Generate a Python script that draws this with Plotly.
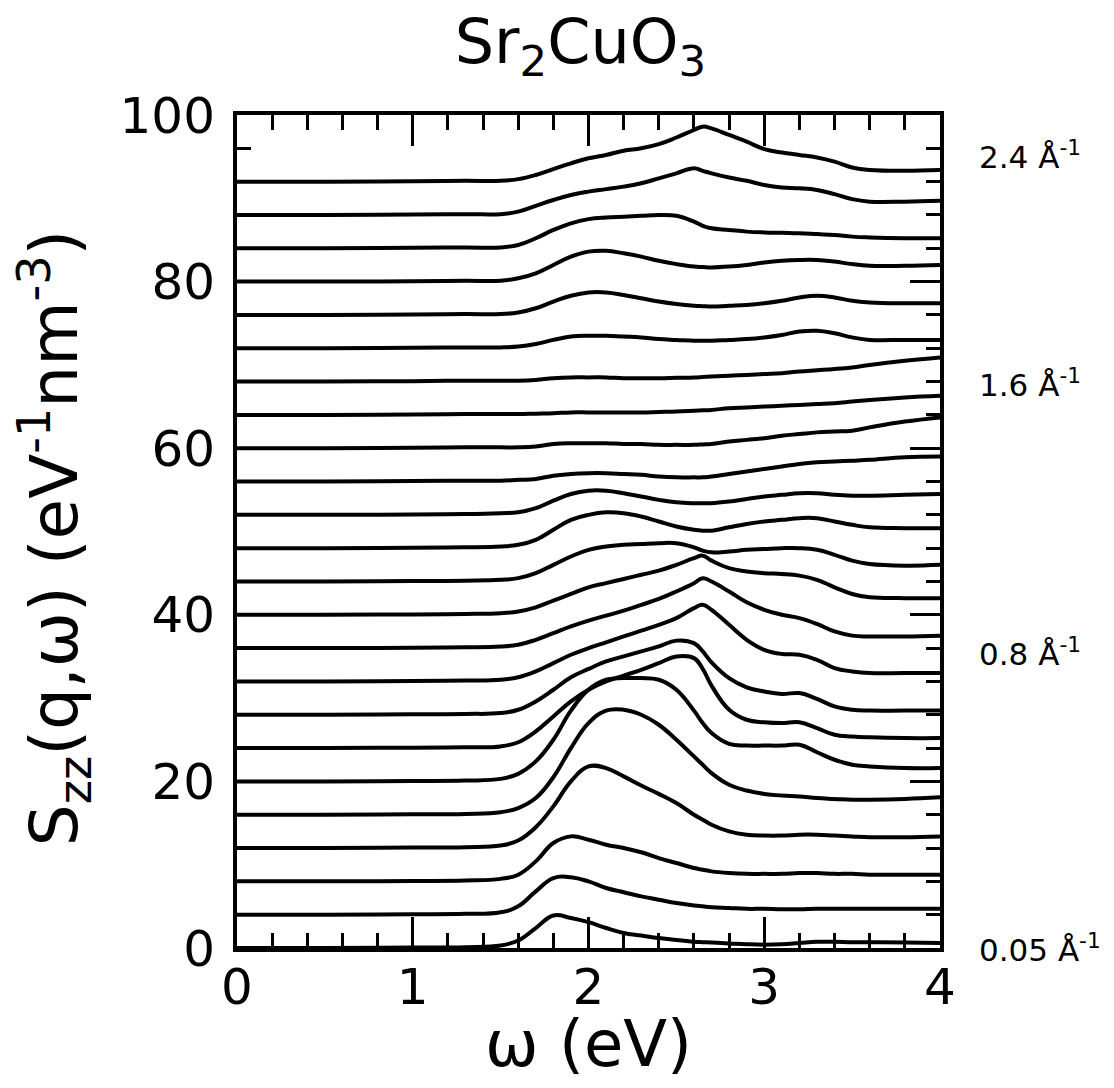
import plotly.graph_objects as go

# energy grid (eV)
omega = [0, 0.5, 1.0, 1.3, 1.5, 1.6, 1.7, 1.8, 1.9, 2.0, 2.1, 2.2, 2.3, 2.4, 2.5,
         2.6, 2.65, 2.7, 2.8, 2.9, 3.0, 3.1, 3.2, 3.3, 3.4, 3.5, 3.6, 3.8, 4.0]

# vertical offsets of each spectrum
offsets = [0, 4, 8, 12, 16, 20, 24, 28, 32, 36, 40, 44, 48, 52, 56, 60, 64, 68,
           72, 76, 80, 84, 88, 92]

# S_zz(q, w) of each spectrum (without offset), lowest q first
s0 = [0, 0, 0.05, 0.1, 0.3, 0.9, 2.4, 3.9, 3.6, 3.1, 2.4, 1.8, 1.5, 1.2, 0.95, 0.75, 0.7, 0.65, 0.55, 0.45, 0.4, 0.45, 0.6, 0.75, 0.75, 0.7, 0.7, 0.65, 0.6]
s1 = [0, 0, 0.05, 0.1, 0.3, 1.0, 2.8, 4.4, 4.5, 4.0, 3.2, 2.7, 2.2, 1.8, 1.4, 1.1, 1.0, 0.9, 0.8, 0.7, 0.7, 0.65, 0.65, 0.7, 0.7, 0.7, 0.7, 0.7, 0.7]
s2 = [0, 0, 0.05, 0.1, 0.3, 0.8, 2.4, 4.6, 5.4, 5.0, 4.4, 4.0, 3.5, 2.8, 2.2, 1.6, 1.4, 1.2, 1.0, 0.9, 0.9, 0.9, 1.0, 1.0, 0.9, 0.9, 0.8, 0.8, 0.8]
s3 = [0, 0, 0.05, 0.1, 0.3, 0.9, 2.5, 5.0, 8.0, 9.8, 9.6, 8.6, 7.5, 6.5, 5.4, 4.0, 3.4, 2.8, 2.0, 1.6, 1.5, 1.5, 1.6, 1.6, 1.5, 1.4, 1.3, 1.3, 1.4]
s4 = [0, 0, 0.05, 0.1, 0.3, 0.8, 2.0, 4.5, 8.0, 11.0, 12.5, 12.6, 12.0, 10.8, 9.0, 7.0, 6.0, 5.0, 3.6, 2.9, 2.5, 2.3, 2.2, 2.0, 1.9, 1.8, 1.8, 1.9, 2.1]
s5 = [0, 0, 0.05, 0.1, 0.3, 0.9, 2.4, 5.0, 8.5, 11.0, 12.2, 12.4, 12.4, 12.2, 11.0, 8.5, 7.0, 5.8, 4.5, 4.3, 4.3, 4.3, 4.4, 3.5, 2.6, 2.0, 1.8, 1.6, 1.6]
s6 = [0, 0, 0.05, 0.1, 0.2, 0.7, 2.0, 3.8, 5.6, 7.0, 8.0, 8.7, 9.4, 10.2, 11.0, 10.8, 9.5, 7.5, 4.6, 3.4, 3.1, 3.0, 3.1, 2.4, 1.6, 1.4, 1.3, 1.2, 1.2]
s7 = [0, 0, 0.05, 0.1, 0.2, 0.6, 1.6, 3.0, 4.5, 5.5, 6.4, 7.0, 7.6, 8.2, 8.9, 8.6, 7.6, 6.3, 4.4, 3.3, 2.8, 2.5, 2.6, 1.9, 1.0, 0.6, 0.5, 0.5, 0.5]
s8 = [0, 0, 0.05, 0.1, 0.2, 0.5, 1.2, 2.2, 3.2, 4.0, 4.7, 5.4, 6.1, 6.8, 7.6, 8.8, 9.2, 8.6, 6.8, 5.0, 3.8, 3.3, 3.2, 2.6, 1.6, 1.2, 1.0, 1.0, 1.0]
s9 = [0, 0, 0.05, 0.1, 0.2, 0.4, 1.0, 1.8, 2.6, 3.3, 3.9, 4.5, 5.2, 5.9, 6.8, 7.8, 8.4, 8.0, 6.8, 5.5, 4.6, 4.0, 3.6, 2.9, 2.0, 1.5, 1.4, 1.4, 1.5]
s10 = [0, 0, 0.05, 0.1, 0.2, 0.4, 0.9, 1.7, 2.5, 3.3, 3.8, 4.3, 4.8, 5.3, 6.0, 6.8, 7.1, 6.5, 5.6, 5.2, 5.0, 4.9, 4.7, 4.2, 3.3, 2.5, 2.1, 2.0, 2.0]
s11 = [0, 0, 0.05, 0.1, 0.2, 0.4, 1.0, 2.0, 3.0, 3.8, 4.2, 4.4, 4.5, 4.6, 4.6, 4.1, 3.7, 3.5, 3.6, 3.8, 3.9, 4.0, 4.0, 3.8, 3.2, 2.5, 2.1, 1.9, 2.0]
s12 = [0, 0, 0.05, 0.1, 0.2, 0.4, 1.0, 2.2, 3.4, 4.0, 4.3, 4.2, 3.8, 3.2, 2.6, 2.2, 2.1, 2.1, 2.5, 2.9, 3.2, 3.4, 3.6, 3.6, 3.2, 2.8, 2.5, 2.4, 2.4]
s13 = [0, 0, 0.05, 0.1, 0.2, 0.3, 0.8, 1.7, 2.5, 2.9, 2.9, 2.6, 2.2, 1.8, 1.5, 1.4, 1.4, 1.4, 1.6, 1.9, 2.2, 2.4, 2.6, 2.6, 2.4, 2.3, 2.3, 2.4, 2.5]
s14 = [0, 0, 0.05, 0.1, 0.1, 0.2, 0.3, 0.7, 0.9, 1.0, 1.0, 0.9, 0.8, 0.6, 0.5, 0.5, 0.5, 0.6, 0.9, 1.2, 1.5, 1.8, 2.1, 2.3, 2.4, 2.5, 2.6, 2.9, 3.0]
s15 = [0, 0, 0.05, 0.1, 0.1, 0.1, 0.2, 0.5, 0.6, 0.6, 0.6, 0.5, 0.5, 0.4, 0.4, 0.4, 0.45, 0.5, 0.8, 1.0, 1.2, 1.5, 1.7, 1.9, 2.0, 2.1, 2.5, 3.2, 3.7]
s16 = [0, 0, 0.05, 0.1, 0.1, 0.1, 0.15, 0.2, 0.3, 0.3, 0.3, 0.3, 0.3, 0.35, 0.4, 0.5, 0.55, 0.6, 0.8, 0.9, 1.0, 1.1, 1.2, 1.3, 1.4, 1.6, 1.8, 2.1, 2.3]
s17 = [0, 0, 0.05, 0.1, 0.1, 0.1, 0.2, 0.4, 0.5, 0.5, 0.5, 0.4, 0.4, 0.4, 0.45, 0.5, 0.55, 0.6, 0.7, 0.8, 0.9, 1.0, 1.2, 1.35, 1.5, 1.7, 2.0, 2.5, 2.9]
s18 = [0, 0, 0.05, 0.1, 0.1, 0.2, 0.5, 1.0, 1.4, 1.5, 1.5, 1.4, 1.3, 1.1, 1.0, 0.9, 0.9, 0.9, 1.0, 1.1, 1.3, 1.6, 2.0, 2.1, 1.8, 1.3, 1.0, 1.0, 1.0]
s19 = [0, 0, 0.05, 0.1, 0.1, 0.3, 0.8, 1.6, 2.3, 2.7, 2.7, 2.4, 2.0, 1.6, 1.3, 1.1, 1.05, 1.0, 1.1, 1.2, 1.4, 1.7, 2.1, 2.3, 2.1, 1.7, 1.5, 1.4, 1.4]
s20 = [0, 0, 0.05, 0.1, 0.1, 0.4, 1.0, 2.0, 3.0, 3.6, 3.7, 3.4, 3.0, 2.5, 2.1, 1.8, 1.75, 1.7, 1.8, 2.0, 2.3, 2.5, 2.6, 2.6, 2.4, 2.1, 1.9, 1.9, 2.0]
s21 = [0, 0, 0.05, 0.1, 0.1, 0.4, 1.2, 2.2, 3.0, 3.5, 3.7, 3.8, 3.9, 4.0, 3.9, 3.2, 2.7, 2.4, 2.2, 2.0, 1.9, 1.85, 1.8, 1.7, 1.6, 1.4, 1.3, 1.2, 1.2]
s22 = [0, 0, 0.05, 0.1, 0.1, 0.4, 1.1, 1.8, 2.4, 2.8, 3.1, 3.4, 3.8, 4.4, 5.0, 5.6, 5.3, 5.0, 4.5, 4.1, 3.6, 3.3, 3.2, 3.0, 2.5, 1.9, 1.6, 1.6, 1.7]
s23 = [0, 0, 0.05, 0.1, 0.1, 0.3, 0.8, 1.5, 2.2, 2.8, 3.2, 3.7, 4.0, 4.5, 5.3, 6.2, 6.6, 6.4, 5.6, 4.8, 3.9, 3.5, 3.2, 2.9, 2.4, 1.7, 1.4, 1.3, 1.4]

spectra = [s0, s1, s2, s3, s4, s5, s6, s7, s8, s9, s10, s11, s12, s13, s14, s15,
           s16, s17, s18, s19, s20, s21, s22, s23]

# q labels on the right and their vertical position (paper units)
q_labels = ["2.4 Å<sup>-1</sup>", "1.6 Å<sup>-1</sup>", "0.8 Å<sup>-1</sup>", "0.05 Å<sup>-1</sup>"]
q_label_pos = [0.952, 0.678, 0.355, 0.0]

FONT = "DejaVu Sans"

fig = go.Figure()
for off, s in zip(offsets, spectra):
    fig.add_trace(go.Scatter(
        x=omega, y=[off + v for v in s], mode="lines",
        line=dict(color="black", width=4, shape="spline", smoothing=1.2),
        showlegend=False, hoverinfo="skip", cliponaxis=True))

annotations = []
for txt, yp in zip(q_labels, q_label_pos):
    annotations.append(dict(text=txt, xref="paper", yref="paper", x=1.053, y=yp,
                            xanchor="left", yanchor="middle", showarrow=False,
                            font=dict(family=FONT, size=31, color="black")))
# axis titles
annotations.append(dict(text="ω (eV)", xref="paper", yref="paper", x=0.5, y=-0.1152,
                        xanchor="center", yanchor="middle", showarrow=False,
                        font=dict(family=FONT, size=64, color="black")))
annotations.append(dict(text="S<sub>zz</sub>(q,ω) (eV<sup>-1</sup>nm<sup>-3</sup>)",
                        xref="paper", yref="paper", x=-0.259, y=0.493, textangle=-90,
                        xanchor="center", yanchor="middle", showarrow=False,
                        font=dict(family=FONT, size=66, color="black")))

axis_common = dict(showline=True, linewidth=4, linecolor="black", mirror="ticks",
                   ticks="inside", tickwidth=3, tickcolor="black", showgrid=False,
                   zeroline=False,
                   tickfont=dict(family=FONT, size=50, color="black"))

fig.update_layout(
    width=1114, height=1088,
    margin=dict(l=237, r=174, t=115, b=140),
    paper_bgcolor="white", plot_bgcolor="white",
    title=dict(text="Sr<sub>2</sub>CuO<sub>3</sub>", x=0.521, xref="container",
               y=0.962, yref="container", xanchor="center", yanchor="middle",
               font=dict(family=FONT, size=62, color="black")),
    xaxis=dict(range=[0, 4], dtick=1, tick0=0, ticklen=31, ticklabelstandoff=-8,
               minor=dict(dtick=0.2, ticklen=15, tickwidth=3, ticks="inside",
                          tickcolor="black", showgrid=False),
               **axis_common),
    yaxis=dict(range=[0, 100], dtick=20, tick0=0, ticklen=30, ticklabelstandoff=8,
               minor=dict(dtick=4, ticklen=14, tickwidth=3, ticks="inside",
                          tickcolor="black", showgrid=False),
               **axis_common),
    annotations=annotations,
)

fig.write_html("out.html")
